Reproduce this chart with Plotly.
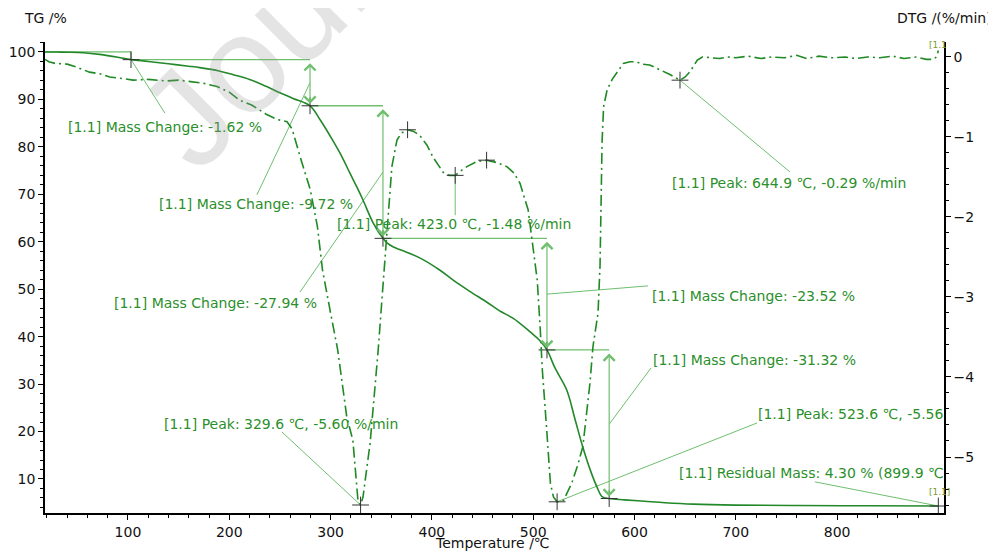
import plotly.graph_objects as go

# ---------------- data ----------------
tg_temp = [18, 30, 40, 56, 72, 90, 103, 120, 140, 160, 171, 190, 204, 220, 237, 250, 263,
           279.7, 290, 302, 311, 319, 326, 332, 342, 351.7, 356, 362, 375, 388, 408, 421,
           437, 454, 468, 480, 497, 506, 513.6, 521.5, 533, 541, 549, 557, 563, 568,
           575, 590, 610, 630, 658, 700, 760, 830, 899.9]
tg_mass = [100.0, 99.98, 99.95, 99.85, 99.5, 98.9, 98.38, 98.0, 97.5, 97.0, 96.7, 96.0,
           95.2, 94.2, 92.7, 91.4, 90.2, 88.66, 85.6, 81.4, 78.0, 74.5, 71.5, 68.8, 64.0,
           60.72, 59.7, 58.9, 57.8, 56.6, 54.0, 51.9, 49.6, 47.3, 45.3, 43.9, 41.0, 39.3,
           37.2, 33.4, 28.8, 22.8, 16.7, 11.5, 8.3, 6.3, 5.88, 5.6, 5.3, 5.0, 4.7, 4.5,
           4.4, 4.35, 4.30]

dtg_temp = [18, 22, 28, 40, 50, 62, 72, 82, 95, 105, 120, 138, 150, 161, 175, 188, 200,
            210, 222, 237, 247, 257, 262, 270, 280, 287, 292, 300, 307, 316, 322, 327,
            329.6, 332, 339, 347, 351, 357, 360.5, 365.5, 370, 376, 382, 388, 395, 401,
            411, 417, 423, 429, 434.6, 444, 454, 464, 474, 481, 487, 495, 499, 504, 507,
            509, 513, 517, 520, 523.6, 527, 530, 538, 544, 549, 554, 556, 559, 564, 566,
            567, 568, 569.5, 573, 578, 583, 589, 595.5, 602, 608, 615, 625, 635, 644.9,
            650, 655, 658, 662, 667, 675, 684, 692, 700, 712, 725, 735, 748, 760, 770,
            782, 795, 808, 818, 830, 842, 855, 866, 878, 888, 895, 898, 899.9]
dtg_rate = [-0.03, -0.06, -0.08, -0.09, -0.13, -0.19, -0.21, -0.25, -0.27, -0.29, -0.28,
            -0.30, -0.29, -0.31, -0.33, -0.37, -0.44, -0.54, -0.60, -0.72, -0.78, -0.81,
            -0.90, -1.25, -1.66, -2.12, -2.66, -3.20, -3.66, -4.50, -4.79, -5.54, -5.60,
            -5.50, -4.83, -3.66, -3.00, -2.00, -1.37, -1.04, -0.95, -0.91, -0.93, -0.98,
            -1.10, -1.25, -1.44, -1.48, -1.48, -1.42, -1.37, -1.31, -1.29, -1.32, -1.37,
            -1.45, -1.58, -1.91, -2.29, -2.79, -3.41, -3.91, -4.60, -5.33, -5.50, -5.56,
            -5.55, -5.54, -5.33, -5.10, -4.87, -4.30, -4.08, -3.62, -3.20, -2.60, -1.80,
            -1.05, -0.62, -0.41, -0.28, -0.19, -0.08, -0.06, -0.06, -0.09, -0.10, -0.16,
            -0.22, -0.29, -0.25, -0.18, -0.12, -0.04, 0.0, -0.01, -0.02, 0.0, -0.01, 0.01,
            -0.02, 0.0, -0.01, 0.02, -0.02, 0.01, -0.01, 0.0, -0.02, 0.0, -0.01, 0.01,
            -0.02, 0.0, -0.03, -0.03, 0.0, 0.08]

# mass-change evaluation steps
step_temp = [18, 103, 279.7, 351.7, 513.6, 575]
step_mass = [100.0, 98.38, 88.66, 60.72, 37.20, 5.88]
residual_temp = 899.9
residual_mass = 4.30

# DTG peaks (T, rate)
peak_temp = [329.6, 376, 423.0, 454, 523.6, 644.9]
peak_rate = [-5.60, -0.91, -1.48, -1.29, -5.56, -0.29]

# label texts and positions (T, TG-axis units)
label_text = ["[1.1] Mass Change: -1.62 %",
              "[1.1] Mass Change: -9.72 %",
              "[1.1] Peak: 423.0 \u2103, -1.48 %/min",
              "[1.1] Mass Change: -27.94 %",
              "[1.1] Mass Change: -23.52 %",
              "[1.1] Mass Change: -31.32 %",
              "[1.1] Peak: 329.6 \u2103, -5.60 %/min",
              "[1.1] Peak: 523.6 \u2103, -5.56",
              "[1.1] Residual Mass: 4.30 % (899.9 \u2103",
              "[1.1] Peak: 644.9 \u2103, -0.29 %/min"]
label_x = [39, 128.6, 304.4, 84.2, 615.3, 616, 133.6, 719.9, 641.9, 635]
label_y = [84.2, 68.0, 63.7, 47.1, 48.6, 35.1, 21.6, 23.7, 11.3, 72.4]

# leader lines: end point near each label (T, TG-axis units)
leader_end_x = [136.5, 227.3, 423.0, 269.8, 613.3, 616.3, 252.0, 720.9, 778.0, 753.5]
leader_end_y = [87.1, 69.9, 65.6, 49.4, 50.7, 33.4, 19.9, 21.8, 9.4, 74.7]

# axis ranges
x_range = [18.1, 905.5]
tg_range = [2.83, 102.1]
dtg_range = [-5.70, 0.187]

GREEN_TXT = "#2b8f2b"
GREEN_TG = "#23882a"
GREEN_DTG = "#1f8a24"
GREEN_GUIDE = "#6fbf6f"
FONT = "DejaVu Sans"


def dtg_to_tg(v):
    return tg_range[0] + (v - dtg_range[0]) * (tg_range[1] - tg_range[0]) / (dtg_range[1] - dtg_range[0])


fig = go.Figure()

# guide step lines (horizontal levels + first tiny vertical)
gx, gy = [], []
for i in range(len(step_temp) - 1):
    gx += [step_temp[i], step_temp[i + 1], None]
    gy += [step_mass[i], step_mass[i], None]
gx += [step_temp[1], step_temp[1], None]
gy += [step_mass[0], step_mass[1], None]
fig.add_trace(go.Scatter(x=gx, y=gy, mode="lines", line=dict(color=GREEN_GUIDE, width=1.3),
                         hoverinfo="skip", showlegend=False))

# leader lines
start_x = [step_temp[1],
           step_temp[2], peak_temp[2], step_temp[3], step_temp[4], step_temp[5],
           peak_temp[0], peak_temp[4], residual_temp, peak_temp[5]]
start_y = [step_mass[1],
           (step_mass[1] + step_mass[2]) / 2,
           dtg_to_tg(peak_rate[2]),
           (step_mass[2] + step_mass[3]) / 2,
           (step_mass[3] + step_mass[4]) / 2,
           (step_mass[4] + step_mass[5]) / 2,
           dtg_to_tg(peak_rate[0]), dtg_to_tg(peak_rate[4]),
           residual_mass, dtg_to_tg(peak_rate[5])]
lx, ly = [], []
for i in range(len(start_x)):
    lx += [start_x[i], leader_end_x[i], None]
    ly += [start_y[i], leader_end_y[i], None]
fig.add_trace(go.Scatter(x=lx, y=ly, mode="lines", line=dict(color=GREEN_GUIDE, width=1),
                         hoverinfo="skip", showlegend=False))

# TG curve
fig.add_trace(go.Scatter(x=tg_temp, y=tg_mass, mode="lines", line=dict(color=GREEN_TG, width=1.6),
                         line_shape="spline", showlegend=False))
# DTG curve
fig.add_trace(go.Scatter(x=dtg_temp, y=dtg_rate, mode="lines", yaxis="y2",
                         line=dict(color=GREEN_DTG, width=1.6, dash="11px,4px,2px,4px"),
                         showlegend=False))

# markers
fig.add_trace(go.Scatter(x=step_temp[1:] + [residual_temp], y=step_mass[1:] + [residual_mass],
                         mode="markers",
                         marker=dict(symbol="cross-thin", size=12, line=dict(color="#333333", width=1)),
                         showlegend=False))
fig.add_trace(go.Scatter(x=peak_temp, y=peak_rate, mode="markers", yaxis="y2",
                         marker=dict(symbol="cross-thin", size=12, line=dict(color="#333333", width=1)),
                         showlegend=False))

annotations = []
# double arrows for steps 2..5
for i in range(1, len(step_temp) - 1):
    annotations.append(dict(x=step_temp[i + 1], y=step_mass[i + 1], ax=step_temp[i + 1], ay=step_mass[i],
                            xref="x", yref="y", axref="x", ayref="y", text="", showarrow=True,
                            arrowhead=4, startarrowhead=4, arrowside="end+start",
                            arrowsize=1.8, startarrowsize=1.8, arrowwidth=1.2, arrowcolor=GREEN_GUIDE,
                            standoff=2, startstandoff=2))
for t, x, y in zip(label_text, label_x, label_y):
    annotations.append(dict(x=x, y=y, xref="x", yref="y", text=t, showarrow=False,
                            xanchor="left", yanchor="middle",
                            font=dict(family=FONT, size=14, color=GREEN_TXT)))
# small series tags
annotations.append(dict(x=888.7, y=7.25, xref="x", yref="y", text="[1.1]", showarrow=False,
                        xanchor="left", yanchor="middle", font=dict(family=FONT, size=9, color="#7e9a2c")))
annotations.append(dict(x=888.7, y=101.5, xref="x", yref="y", text="[1.1", showarrow=False,
                        xanchor="left", yanchor="middle", font=dict(family=FONT, size=9, color="#7e9a2c")))
# axis titles
annotations.append(dict(x=-0.026, y=1.051, xref="paper", yref="paper", text="TG /%", showarrow=False,
                        xanchor="left", yanchor="middle", font=dict(family=FONT, size=14, color="#111111")))
annotations.append(dict(x=1.056, y=1.051, xref="paper", yref="paper", text="DTG /(%/min)", showarrow=False,
                        xanchor="right", yanchor="middle", font=dict(family=FONT, size=14, color="#111111")))
annotations.append(dict(x=0.498, y=-0.063, xref="paper", yref="paper", text="Temperature /\u2103",
                        showarrow=False, xanchor="center", yanchor="middle",
                        font=dict(family=FONT, size=14, color="#111111")))
# watermark
annotations.append(dict(x=0.068, y=0.665, xref="paper", yref="paper", text="Journal Pre-proof",
                        showarrow=False, xanchor="left", yanchor="bottom", textangle=-45,
                        font=dict(family="Liberation Sans", size=138, color="rgba(150,150,150,0.26)")))

axis_common = dict(showgrid=False, zeroline=False, showline=True, linecolor="black",
                   linewidth=1.6, ticks="outside", ticklen=5, tickwidth=1, tickcolor="black",
                   automargin=False, tickfont=dict(family=FONT, size=14, color="#111111"))

# the page body adds an 8 px offset; figure size and margins compensate for it
fig.update_layout(
    width=988, height=543,
    margin=dict(l=37, r=52, t=34, b=38),
    paper_bgcolor="white", plot_bgcolor="white",
    annotations=annotations,
    font=dict(family=FONT, size=14, color="#111111"),
    xaxis=dict(range=x_range, tickvals=[100, 200, 300, 400, 500, 600, 700, 800],
               minor=dict(tickvals=[v for v in range(20, 900, 20) if v % 100], ticklen=3,
                          tickcolor="black", ticks="outside"),
               **axis_common),
    yaxis=dict(range=tg_range, tickvals=[10, 20, 30, 40, 50, 60, 70, 80, 90, 100],
               minor=dict(dtick=2, ticklen=3, tickcolor="black", ticks="outside"),
               **axis_common),
    yaxis2=dict(range=dtg_range, overlaying="y", side="right", tickvals=[0, -1, -2, -3, -4, -5],
                minor=dict(dtick=0.2, ticklen=3, tickcolor="black", ticks="outside"),
                **axis_common),
)

fig.write_html("out.html")
